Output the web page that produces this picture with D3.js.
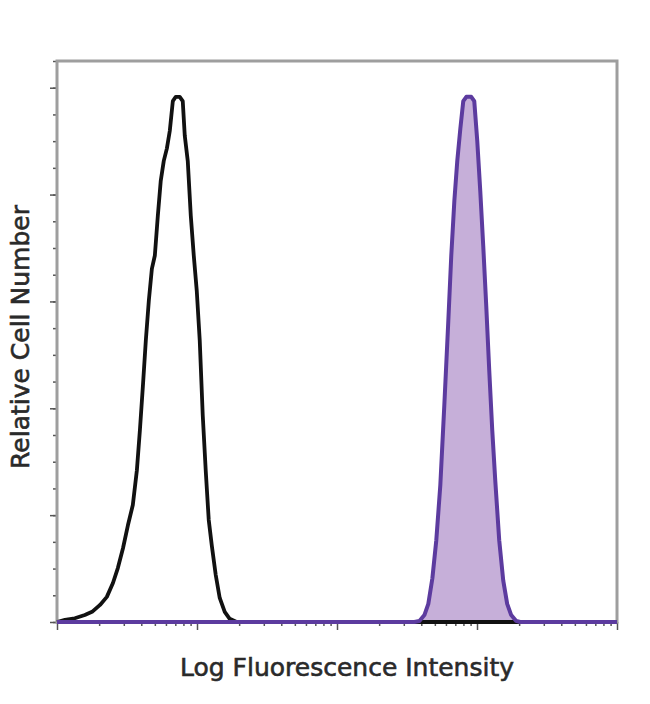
<!DOCTYPE html>
<html>
<head>
<meta charset="utf-8">
<script src="https://cdn.jsdelivr.net/npm/d3@7"></script>
<style>
  body { margin: 0; background: #fff; }
  svg { display: block; }
</style>
</head>
<body>
<div id="chart"></div>
<script>
// fluorescence intensity (log axis) and relative cell counts
var isoX = [1, 1.14, 1.34, 1.58, 1.78, 2.03, 2.27, 2.51, 2.72, 2.96, 3.21, 3.48, 3.72, 3.91, 4.11, 4.31, 4.53, 4.76, 5.00, 5.25, 5.51, 5.79, 6.09, 6.39, 6.72, 7.05, 7.53, 7.91, 8.18, 8.59, 9.03, 9.48, 9.96, 10.46, 10.99, 11.54, 12.13, 12.74, 13.61, 14.53, 15.78, 17.12, 19.20, 10000];
var isoY = [0, 0.4, 0.7, 1.3, 1.9, 3.2, 4.7, 7.3, 10.1, 13.8, 18.1, 21.9, 28.4, 35.9, 44.3, 52.7, 60.2, 66.1, 68.6, 76.0, 82.6, 86.3, 88.6, 91.9, 97.5, 98.3, 98.3, 97.5, 91.0, 86.3, 76.0, 68.6, 62.0, 52.7, 38.7, 28.4, 19.1, 14.4, 8.8, 4.5, 1.9, 0.6, 0, 0];

var stainX = [1, 357, 388, 421, 449, 480, 512, 547, 584, 624, 655, 689, 723, 760, 798, 839, 910, 956, 1004, 1055, 1108, 1164, 1223, 1285, 1350, 1441, 1539, 1643, 1755, 1905, 2034, 10000];
var stainY = [0, 0, 0.2, 1.3, 3.4, 8.2, 15.3, 25.6, 40.5, 56.4, 68.6, 78.8, 86.3, 92.3, 97.5, 98.3, 98.3, 97.5, 90.1, 80.7, 70.4, 59.2, 47.1, 35.9, 26.5, 15.3, 7.8, 3.4, 1.3, 0.2, 0, 0];

var xDomain = [1, 10000];
var yDomain = [0, 105];
var xLabel = "Log Fluorescence Intensity";
var yLabel = "Relative Cell Number";

var W = 650, H = 704;
var m = {left: 57, right: 617, top: 61, bottom: 622};

var svg = d3.select("#chart").append("svg").attr("width", W).attr("height", H);

var x = d3.scaleLog().domain(xDomain).range([m.left, m.right]);
var y = d3.scaleLinear().domain(yDomain).range([m.bottom, m.top]);

var iso = isoX.map(function(v, i) { return [v, isoY[i]]; });
var stain = stainX.map(function(v, i) { return [v, stainY[i]]; });

var line = d3.line().x(function(d) { return x(d[0]); }).y(function(d) { return y(d[1]); });
var area = d3.area().x(function(d) { return x(d[0]); }).y0(y(0)).y1(function(d) { return y(d[1]); });

// ticks
var minorX = [];
for (var e = 0; e < 4; e++) {
  for (var k = 2; k <= 9; k++) minorX.push(k * Math.pow(10, e));
}
var majorX = [1, 10, 100, 1000, 10000];

function styleAxis(g) {
  g.select(".domain").remove();
  g.selectAll(".tick line").attr("stroke", "#555").attr("stroke-width", 1.5);
  g.selectAll(".tick text").remove();
}

svg.append("g").attr("transform", "translate(0," + m.bottom + ")")
  .call(d3.axisBottom(x).tickValues(minorX).tickSize(4).tickFormat(""))
  .call(styleAxis);
svg.append("g").attr("transform", "translate(0," + m.bottom + ")")
  .call(d3.axisBottom(x).tickValues(majorX).tickSize(8).tickFormat(""))
  .call(styleAxis);
svg.append("g").attr("transform", "translate(" + m.left + ",0)")
  .call(d3.axisLeft(y).tickValues(d3.range(0, 106, 5)).tickSize(4).tickFormat(""))
  .call(styleAxis);
svg.append("g").attr("transform", "translate(" + m.left + ",0)")
  .call(d3.axisLeft(y).tickValues(d3.range(0, 101, 20)).tickSize(7).tickFormat(""))
  .call(styleAxis);

// frame
svg.append("rect")
  .attr("x", m.left).attr("y", m.top)
  .attr("width", m.right - m.left).attr("height", m.bottom - m.top)
  .attr("fill", "none").attr("stroke", "#9e9e9e").attr("stroke-width", 3);

// stained fill, isotype line, stained line
svg.append("path").datum(stain).attr("d", area).attr("fill", "#c6afd9");
svg.append("path").datum(iso).attr("d", line)
  .attr("fill", "none").attr("stroke", "#111").attr("stroke-width", 3.8)
  .attr("stroke-linejoin", "round");
svg.append("path").datum(stain).attr("d", line)
  .attr("fill", "none").attr("stroke", "#5c3b9f").attr("stroke-width", 4)
  .attr("stroke-linejoin", "round");

svg.append("text")
  .attr("x", (m.left + m.right) / 2 + 10).attr("y", 676)
  .attr("text-anchor", "middle")
  .attr("font-family", "DejaVu Sans").attr("font-size", 25)
  .attr("fill", "#2a2a2a").attr("stroke", "#2a2a2a").attr("stroke-width", 0.6)
  .text(xLabel);

svg.append("text")
  .attr("transform", "translate(29,337) rotate(-90)")
  .attr("text-anchor", "middle")
  .attr("font-family", "DejaVu Sans").attr("font-size", 25)
  .attr("fill", "#2a2a2a").attr("stroke", "#2a2a2a").attr("stroke-width", 0.6)
  .text(yLabel);
</script>
</body>
</html>
